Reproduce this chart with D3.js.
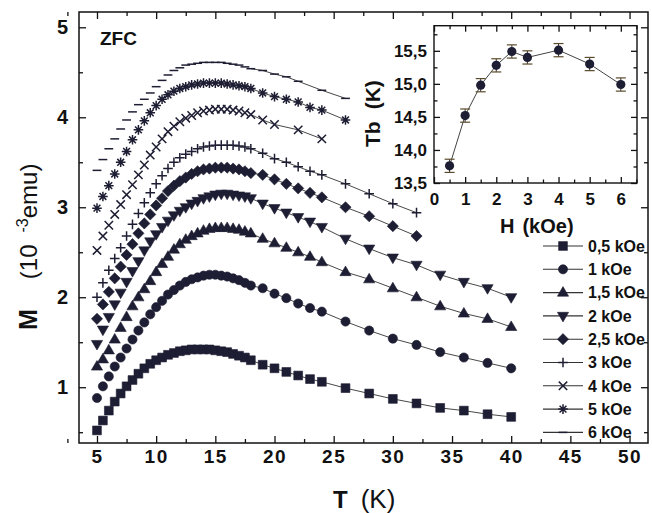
<!DOCTYPE html>
<html>
<head>
<meta charset="utf-8">
<script src="https://cdn.jsdelivr.net/npm/d3@7"></script>
<style>
  body { margin: 0; background: #fff; }
  svg { display: block; font-family: "Liberation Sans", Arial, Helvetica, sans-serif; }
</style>
</head>
<body>
<div id="chart"></div>
<script>
// ---- data ----
const fields = ['0,5 kOe', '1 kOe', '1,5 kOe', '2 kOe', '2,5 kOe', '3 kOe', '4 kOe', '5 kOe', '6 kOe'];
const shapes = ['square', 'circle', 'triUp', 'triDown', 'diamond', 'plus', 'cross', 'star', 'dash'];

// dense part of the sweep (T in K)
const denseT = [5, 5.5, 6, 6.5, 7, 7.5, 8, 8.5, 9, 9.5, 10, 10.5, 11, 11.5, 12, 12.5, 13, 13.5, 14, 14.5, 15, 15.5, 16, 16.5, 17, 17.5, 18];

const m05 = [0.52, 0.63, 0.74, 0.84, 0.93, 1.01, 1.08, 1.15, 1.21, 1.26, 1.30, 1.33, 1.36, 1.38, 1.40, 1.41, 1.42, 1.42, 1.42, 1.42, 1.41, 1.40, 1.39, 1.37, 1.35, 1.33, 1.30];
const m1 = [0.88, 1.01, 1.12, 1.23, 1.33, 1.43, 1.53, 1.63, 1.72, 1.81, 1.89, 1.96, 2.03, 2.08, 2.13, 2.17, 2.20, 2.22, 2.24, 2.25, 2.25, 2.24, 2.23, 2.21, 2.19, 2.16, 2.13];
const m15 = [1.23, 1.31, 1.41, 1.53, 1.66, 1.78, 1.90, 2.00, 2.09, 2.18, 2.28, 2.37, 2.45, 2.53, 2.59, 2.64, 2.68, 2.71, 2.74, 2.76, 2.77, 2.77, 2.77, 2.76, 2.75, 2.73, 2.71];
const m2 = [1.48, 1.64, 1.78, 1.92, 2.05, 2.17, 2.29, 2.40, 2.52, 2.62, 2.70, 2.78, 2.85, 2.91, 2.96, 3.00, 3.04, 3.07, 3.10, 3.12, 3.14, 3.15, 3.15, 3.14, 3.13, 3.12, 3.10];
const m25 = [1.76, 1.92, 2.06, 2.21, 2.34, 2.47, 2.59, 2.71, 2.82, 2.92, 3.02, 3.10, 3.18, 3.24, 3.29, 3.33, 3.37, 3.40, 3.42, 3.43, 3.44, 3.44, 3.44, 3.43, 3.42, 3.40, 3.38];
const m3 = [2.00, 2.16, 2.30, 2.43, 2.55, 2.68, 2.81, 2.93, 3.05, 3.16, 3.26, 3.35, 3.43, 3.50, 3.55, 3.59, 3.62, 3.65, 3.67, 3.68, 3.69, 3.69, 3.69, 3.69, 3.68, 3.67, 3.65];
const m4 = [2.52, 2.68, 2.80, 2.92, 3.03, 3.14, 3.25, 3.36, 3.47, 3.58, 3.67, 3.76, 3.84, 3.90, 3.95, 3.99, 4.02, 4.05, 4.07, 4.08, 4.09, 4.09, 4.09, 4.08, 4.07, 4.05, 4.03];
const m5 = [2.99, 3.12, 3.24, 3.37, 3.50, 3.62, 3.75, 3.86, 3.96, 4.05, 4.13, 4.20, 4.25, 4.29, 4.32, 4.34, 4.36, 4.37, 4.38, 4.38, 4.38, 4.38, 4.37, 4.36, 4.35, 4.34, 4.32];
const m6 = [3.41, 3.53, 3.65, 3.76, 3.87, 3.97, 4.06, 4.14, 4.20, 4.27, 4.34, 4.41, 4.47, 4.52, 4.55, 4.58, 4.59, 4.60, 4.61, 4.61, 4.61, 4.61, 4.60, 4.59, 4.58, 4.56, 4.54];

// sparse tail of each sweep
const tailLong = [19, 20, 21, 22, 23, 24, 26, 28, 30, 32, 34, 36, 38, 40];
const tailMid = [19, 20, 21, 22, 23, 24, 26, 28, 30, 32];
const tail4T = [19, 20, 22, 24];
const tail5T = [19, 20, 21, 22, 23, 24, 26];
const tail6T = [19, 20, 21, 22, 24, 26];

const t05 = [1.25, 1.21, 1.17, 1.13, 1.09, 1.06, 0.99, 0.93, 0.87, 0.82, 0.77, 0.74, 0.70, 0.67];
const t1 = [2.10, 2.04, 1.99, 1.93, 1.88, 1.84, 1.73, 1.63, 1.54, 1.47, 1.39, 1.33, 1.27, 1.21];
const t15 = [2.65, 2.60, 2.55, 2.50, 2.45, 2.39, 2.28, 2.20, 2.10, 2.00, 1.90, 1.82, 1.76, 1.67];
const t2 = [3.04, 2.99, 2.94, 2.89, 2.84, 2.78, 2.65, 2.54, 2.44, 2.36, 2.25, 2.17, 2.10, 2.00];
const t25 = [3.36, 3.31, 3.26, 3.21, 3.16, 3.11, 3.00, 2.90, 2.79, 2.68];
const t3 = [3.60, 3.54, 3.50, 3.45, 3.40, 3.36, 3.26, 3.15, 3.04, 2.94];
const t4 = [3.97, 3.92, 3.86, 3.76];
const t5 = [4.27, 4.23, 4.20, 4.17, 4.11, 4.08, 3.97];
const t6 = [4.52, 4.48, 4.45, 4.40, 4.30, 4.21];

const denseM = [m05, m1, m15, m2, m25, m3, m4, m5, m6];
const tailT = [tailLong, tailLong, tailLong, tailLong, tailMid, tailMid, tail4T, tail5T, tail6T];
const tailM = [t05, t1, t15, t2, t25, t3, t4, t5, t6];

// inset: blocking temperature vs field
const insetH = [0.5, 1, 1.5, 2, 2.5, 3, 4, 5, 6];
const insetTb = [13.76, 14.52, 14.98, 15.28, 15.49, 15.40, 15.51, 15.30, 14.99];
const insetErr = [0.1, 0.1, 0.1, 0.1, 0.1, 0.1, 0.1, 0.1, 0.1];

const xTicks = [5, 10, 15, 20, 25, 30, 35, 40, 45, 50];
const yTicks = [1, 2, 3, 4, 5];
const insetXTicks = [0, 1, 2, 3, 4, 5, 6];
const insetYTicks = [13.5, 14.0, 14.5, 15.0, 15.5];

// ---- drawing ----
const W = 652, H = 513;
const ink = '#1d1d33';

const series = fields.map((label, i) => ({
  label,
  shape: shapes[i],
  pts: denseT.map((t, j) => ({ t, m: denseM[i][j] }))
    .concat(tailT[i].map((t, j) => ({ t, m: tailM[i][j] })))
}));

const svg = d3.select('#chart').append('svg').attr('width', W).attr('height', H);

const x = d3.scaleLinear().domain([3.48, 51.56]).range([79, 648]);
const y = d3.scaleLinear().domain([0.38, 5.17]).range([443, 12]);

function markerPath(shape) {
  switch (shape) {
    case 'square': return 'M-4.4,-4.4h8.8v8.8h-8.8Z';
    case 'circle': return 'M4.6,0A4.6,4.6 0 1,1 -4.6,0A4.6,4.6 0 1,1 4.6,0Z';
    case 'triUp': return 'M0,-6L5.6,3.6L-5.6,3.6Z';
    case 'triDown': return 'M0,6L5.6,-3.6L-5.6,-3.6Z';
    case 'diamond': return 'M0,-5.6L5.6,0L0,5.6L-5.6,0Z';
    case 'plus': return 'M-4.8,0H4.8M0,-4.8V4.8';
    case 'cross': return 'M-4.2,-4.2L4.2,4.2M-4.2,4.2L4.2,-4.2';
    case 'star': return 'M-4.8,0H4.8M0,-4.8V4.8M-3.4,-3.4L3.4,3.4M-3.4,3.4L3.4,-3.4';
    case 'dash': return 'M-4.4,0H4.4';
  }
}
const stroked = s => s === 'plus' || s === 'cross' || s === 'star' || s === 'dash';

function styleMarker(sel, shape) {
  sel.attr('d', markerPath(shape))
    .attr('fill', stroked(shape) ? 'none' : ink)
    .attr('stroke', ink)
    .attr('stroke-width', stroked(shape) ? 1.5 : 0.6);
}

function cleanAxis(g, fontSize) {
  g.select('.domain').remove();
  g.selectAll('.tick line').attr('stroke', '#111').attr('stroke-width', 1.3);
  g.selectAll('.tick text')
    .attr('fill', '#111')
    .attr('font-size', fontSize)
    .attr('font-weight', 'bold');
}

// main axes
const minorX = d3.range(0, 21).map(i => 2.5 + i * 2.5).filter(v => v < 51.5 && xTicks.indexOf(v) < 0);
const minorY = [0.5, 1.5, 2.5, 3.5, 4.5];

svg.append('g').attr('transform', 'translate(0,443)')
  .call(d3.axisBottom(x).tickValues(xTicks).tickSize(-7).tickPadding(7).tickFormat(d3.format('d')))
  .call(g => cleanAxis(g, 19))
  .call(g => g.selectAll('.tick text').attr('letter-spacing', 1.5));
svg.append('g').attr('transform', 'translate(0,443)')
  .call(d3.axisBottom(x).tickValues(minorX).tickSize(-4).tickFormat(''))
  .call(g => cleanAxis(g, 0));
svg.append('g').attr('transform', 'translate(0,12)')
  .call(d3.axisTop(x).tickValues(xTicks).tickSize(-7).tickFormat(''))
  .call(g => cleanAxis(g, 0));
svg.append('g').attr('transform', 'translate(0,12)')
  .call(d3.axisTop(x).tickValues(minorX).tickSize(-4).tickFormat(''))
  .call(g => cleanAxis(g, 0));

svg.append('g').attr('transform', 'translate(79,0)')
  .call(d3.axisLeft(y).tickValues(yTicks).tickSize(-7).tickPadding(11).tickFormat(d3.format('d')))
  .call(g => cleanAxis(g, 20));
svg.append('g').attr('transform', 'translate(79,0)')
  .call(d3.axisLeft(y).tickValues(minorY).tickSize(-4).tickFormat(''))
  .call(g => cleanAxis(g, 0));
svg.append('g').attr('transform', 'translate(648,0)')
  .call(d3.axisRight(y).tickValues(yTicks).tickSize(-7).tickFormat(''))
  .call(g => cleanAxis(g, 0));
svg.append('g').attr('transform', 'translate(648,0)')
  .call(d3.axisRight(y).tickValues(minorY).tickSize(-4).tickFormat(''))
  .call(g => cleanAxis(g, 0));

svg.append('rect')
  .attr('x', 79).attr('y', 12).attr('width', 648 - 79).attr('height', 443 - 12)
  .attr('fill', 'none').attr('stroke', '#111').attr('stroke-width', 1.5);

// curves
const line = d3.line().x(d => x(d.t)).y(d => y(d.m));
const $vis = svg.append('g');

series.forEach(s => {
  $vis.append('path')
    .datum(s.pts.filter(d => d.t >= 18))
    .attr('d', line)
    .attr('fill', 'none')
    .attr('stroke', '#333')
    .attr('stroke-width', 0.9);

  $vis.selectAll(null)
    .data(s.pts)
    .enter()
    .append('path')
    .attr('transform', d => `translate(${x(d.t)},${y(d.m)})`)
    .call(sel => styleMarker(sel, s.shape));
});

// labels
svg.append('text')
  .attr('x', 100).attr('y', 45)
  .attr('font-size', 19).attr('font-weight', 'bold').attr('fill', '#111')
  .text('ZFC');

const xTitle = svg.append('text').attr('x', 333).attr('y', 508).attr('fill', '#111');
xTitle.append('tspan').attr('font-size', 24).attr('font-weight', 'bold').text('T');
xTitle.append('tspan').attr('dx', 13).attr('font-size', 26).text('(K)');

const yTitle = svg.append('text')
  .attr('transform', 'translate(37,330) rotate(-90)')
  .attr('fill', '#111');
yTitle.append('tspan').attr('font-size', 25).attr('font-weight', 'bold').text('M');
yTitle.append('tspan').attr('dx', 30).attr('font-size', 24).text('(10');
yTitle.append('tspan').attr('dx', 12).attr('dy', -9).attr('font-size', 16).text('-3');
yTitle.append('tspan').attr('dy', 9).attr('font-size', 24).text('emu)');

// legend
const legend = svg.append('g');
fields.forEach((f, i) => {
  const ly = 246 + i * 23.3;
  const row = legend.append('g').attr('transform', `translate(0,${ly})`);
  row.append('line')
    .attr('x1', 543).attr('x2', 583)
    .attr('stroke', '#333').attr('stroke-width', 1.1);
  row.append('path')
    .attr('transform', 'translate(563,0)')
    .call(sel => styleMarker(sel, shapes[i]));
  row.append('text')
    .attr('x', 588).attr('dy', '0.36em')
    .attr('font-size', 16).attr('font-weight', 'bold').attr('fill', '#111')
    .text(f);
});

// ---- inset ----
const ix = d3.scaleLinear().domain([0, 6.52]).range([434, 637]);
const iy = d3.scaleLinear().domain([13.5, 15.88]).range([183, 25.7]);
const $inset = svg.append('g');

$inset.append('rect')
  .attr('x', 434).attr('y', 25.7).attr('width', 637 - 434).attr('height', 183 - 25.7)
  .attr('fill', '#fff');

const iMinorX = [0.5, 1.5, 2.5, 3.5, 4.5, 5.5, 6.5];
const iMinorY = [13.75, 14.25, 14.75, 15.25, 15.75];

$inset.append('g').attr('transform', 'translate(0,183)')
  .call(d3.axisBottom(ix).tickValues(insetXTicks).tickSize(-6).tickPadding(10).tickFormat(d3.format('d')))
  .call(g => cleanAxis(g, 17));
$inset.append('g').attr('transform', 'translate(0,183)')
  .call(d3.axisBottom(ix).tickValues(iMinorX).tickSize(-3.5).tickFormat(''))
  .call(g => cleanAxis(g, 0));
$inset.append('g').attr('transform', 'translate(0,25.7)')
  .call(d3.axisTop(ix).tickValues(insetXTicks).tickSize(-6).tickFormat(''))
  .call(g => cleanAxis(g, 0));
$inset.append('g').attr('transform', 'translate(0,25.7)')
  .call(d3.axisTop(ix).tickValues(iMinorX).tickSize(-3.5).tickFormat(''))
  .call(g => cleanAxis(g, 0));
$inset.append('g').attr('transform', 'translate(434,0)')
  .call(d3.axisLeft(iy).tickValues(insetYTicks).tickSize(-6).tickPadding(7).tickFormat(d => d3.format('.1f')(d).replace('.', ',')))
  .call(g => cleanAxis(g, 17));
$inset.append('g').attr('transform', 'translate(434,0)')
  .call(d3.axisLeft(iy).tickValues(iMinorY).tickSize(-3.5).tickFormat(''))
  .call(g => cleanAxis(g, 0));
$inset.append('g').attr('transform', 'translate(637,0)')
  .call(d3.axisRight(iy).tickValues(insetYTicks).tickSize(-6).tickFormat(''))
  .call(g => cleanAxis(g, 0));
$inset.append('g').attr('transform', 'translate(637,0)')
  .call(d3.axisRight(iy).tickValues(iMinorY).tickSize(-3.5).tickFormat(''))
  .call(g => cleanAxis(g, 0));

$inset.append('rect')
  .attr('x', 434).attr('y', 25.7).attr('width', 637 - 434).attr('height', 183 - 25.7)
  .attr('fill', 'none').attr('stroke', '#111').attr('stroke-width', 1.4);

const insetData = insetH.map((h, i) => ({ h, tb: insetTb[i], err: insetErr[i] }));

$inset.append('path')
  .datum(insetData)
  .attr('d', d3.line().x(d => ix(d.h)).y(d => iy(d.tb)))
  .attr('fill', 'none').attr('stroke', '#444').attr('stroke-width', 1);

const bars = $inset.selectAll('.g-err').data(insetData).enter().append('g').attr('class', 'g-err');
bars.append('line')
  .attr('x1', d => ix(d.h)).attr('x2', d => ix(d.h))
  .attr('y1', d => iy(d.tb - d.err)).attr('y2', d => iy(d.tb + d.err))
  .attr('stroke', '#333').attr('stroke-width', 1);
bars.selectAll('.cap').data(d => [d.tb - d.err, d.tb + d.err].map(v => ({ h: d.h, v })))
  .enter().append('line')
  .attr('x1', d => ix(d.h) - 5).attr('x2', d => ix(d.h) + 5)
  .attr('y1', d => iy(d.v)).attr('y2', d => iy(d.v))
  .attr('stroke', '#5a4a2a').attr('stroke-width', 1.2);
bars.append('circle')
  .attr('cx', d => ix(d.h)).attr('cy', d => iy(d.tb))
  .attr('r', 4.6).attr('fill', ink);

const tbTitle = $inset.append('text')
  .attr('transform', 'translate(380,147) rotate(-90)')
  .attr('font-size', 21).attr('font-weight', 'bold').attr('fill', '#111');
tbTitle.append('tspan').text('Tb');
tbTitle.append('tspan').attr('dx', 12).text('(K)');

const hTitle = $inset.append('text')
  .attr('x', 500).attr('y', 233)
  .attr('font-size', 20).attr('font-weight', 'bold').attr('fill', '#111');
hTitle.append('tspan').text('H');
hTitle.append('tspan').attr('dx', 8).text('(kOe)');
</script>
</body>
</html>
